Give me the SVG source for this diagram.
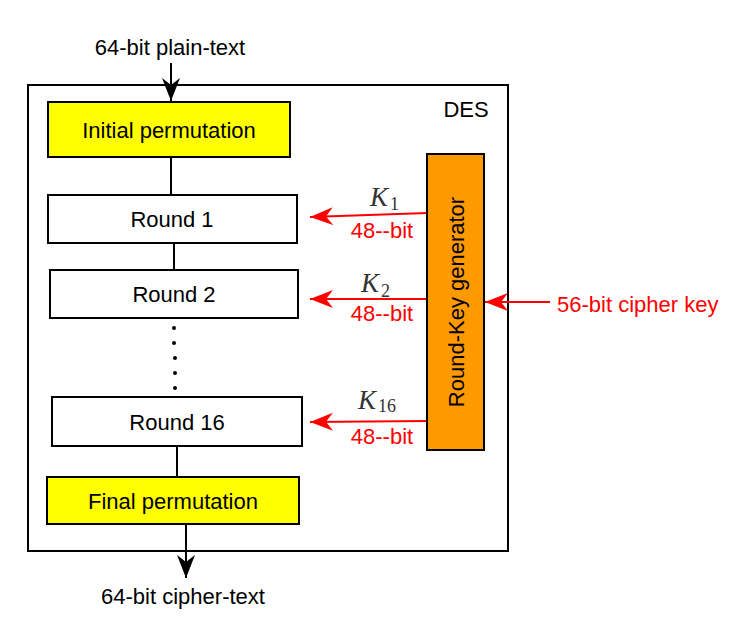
<svg xmlns="http://www.w3.org/2000/svg" width="756" height="642" viewBox="0 0 756 642">
<style>
text{font-family:"Liberation Sans",Arial,sans-serif;font-size:22px;fill:#000}
.box{fill:#fff;stroke:#000;stroke-width:2}
.yel{fill:#ffff00;stroke:#000;stroke-width:2}
.lbl{text-anchor:middle}
.red{fill:#ff0000}
.k{font-family:"Liberation Serif","Times New Roman",serif;font-style:italic;font-size:27px;fill:#333}
.ks{font-family:"Liberation Serif","Times New Roman",serif;font-size:18px;fill:#333}
.blk{stroke:#000;stroke-width:2;fill:none}
.rl{stroke:#ff0000;stroke-width:2;fill:none}
</style>
<defs>
<marker id="ab" markerWidth="24" markerHeight="20" viewBox="0 0 24 20" refX="23" refY="10" orient="auto" markerUnits="userSpaceOnUse">
<path d="M0,1 L23,10 L0,19 L7,10 z" fill="#000"/>
</marker>
<marker id="ar" markerWidth="24" markerHeight="20" viewBox="0 0 24 20" refX="23" refY="10" orient="auto" markerUnits="userSpaceOnUse">
<path d="M0,1 L23,10 L0,19 L7,10 z" fill="#ff0000"/>
</marker>
</defs>
<g id="des">
<rect x="28" y="85" width="480" height="466" fill="none" stroke="#000" stroke-width="2"/>
<text x="466" y="117" class="lbl">DES</text>
</g>
<g id="connectors">
<line x1="171" y1="63" x2="171" y2="101" class="blk" marker-end="url(#ab)"/>
<line x1="171" y1="157" x2="171" y2="195" class="blk"/>
<line x1="174" y1="243" x2="174" y2="269" class="blk"/>
<line x1="177" y1="446" x2="177" y2="477" class="blk"/>
<line x1="186" y1="524" x2="186" y2="578" class="blk" marker-end="url(#ab)"/>
<line x1="427" y1="213" x2="310" y2="217" class="rl" marker-end="url(#ar)"/>
<line x1="427" y1="299" x2="310" y2="299" class="rl" marker-end="url(#ar)"/>
<line x1="427" y1="421" x2="310" y2="422" class="rl" marker-end="url(#ar)"/>
<line x1="550" y1="302" x2="485" y2="302" class="rl" marker-end="url(#ar)"/>
<g fill="#000">
<circle cx="174" cy="328" r="2"/>
<circle cx="174" cy="343" r="2"/>
<circle cx="175" cy="358" r="2"/>
<circle cx="175" cy="373" r="2"/>
<circle cx="175" cy="388" r="2"/>
</g>
</g>
<g id="plaintext"><text x="170" y="55" class="lbl">64-bit plain-text</text></g>
<g id="initial"><rect x="48" y="102" width="242" height="55" class="yel"/><text x="169" y="138" class="lbl">Initial permutation</text></g>
<g id="round1"><rect x="48" y="195" width="249" height="48" class="box"/><text x="172" y="227" class="lbl">Round 1</text></g>
<g id="round2"><rect x="50" y="270" width="248" height="48" class="box"/><text x="174" y="302" class="lbl">Round 2</text></g>
<g id="round16"><rect x="52" y="397" width="250" height="49" class="box"/><text x="177" y="430" class="lbl">Round 16</text></g>
<g id="final"><rect x="47" y="477" width="252" height="47" class="yel"/><text x="173" y="509" class="lbl">Final permutation</text></g>
<g id="ciphertext"><text x="183" y="604" class="lbl">64-bit cipher-text</text></g>
<g id="keygen"><rect x="427" y="154" width="57" height="296" fill="#ff9900" stroke="#000" stroke-width="2"/><text x="0" y="0" class="lbl" transform="translate(464,302) rotate(-90)">Round-Key generator</text></g>
<g id="k1"><text x="370" y="206" class="k">K</text><text x="390" y="210" class="ks">1</text><text x="382" y="238" class="lbl red">48--bit</text></g>
<g id="k2"><text x="361" y="292" class="k">K</text><text x="381" y="297" class="ks">2</text><text x="382" y="321" class="lbl red">48--bit</text></g>
<g id="k16"><text x="358" y="409" class="k">K</text><text x="378" y="412" class="ks">16</text><text x="382" y="444" class="lbl red">48--bit</text></g>
<g id="cipherkey"><text x="557" y="312" class="red">56-bit cipher key</text></g>
</svg>
